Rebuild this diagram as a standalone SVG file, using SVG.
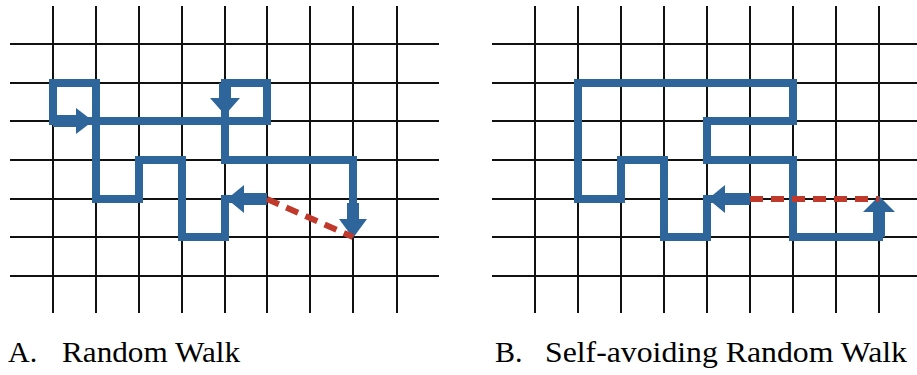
<svg xmlns="http://www.w3.org/2000/svg" width="917" height="375" viewBox="0 0 917 375">
<style>
.grid{stroke:#111;stroke-width:2;fill:none}
.walk{stroke:#2f659b;stroke-width:8;fill:none;stroke-linejoin:miter;stroke-linecap:square}
.shaft{stroke:#2f659b;stroke-width:12;fill:none}
.head{fill:#2f659b}
.jump{stroke:#c0392b;stroke-width:6;stroke-dasharray:13 8;fill:none}
.lbl{font-family:"Liberation Serif","Times New Roman",serif;font-size:30px;fill:#000}
</style>
<defs>
<filter id="soft" x="-5%" y="-5%" width="110%" height="110%"><feGaussianBlur stdDeviation="0.6"/></filter>
</defs>
<g id="grid-a" class="grid">
<path d="M10 44H439M10 83H439M10 121H439M10 160H439M10 199H439M10 237H439M10 276H439"/>
<path d="M53 6V313M96 6V313M139 6V313M182 6V313M225 6V313M267 6V313M310 6V313M353 6V313M397 6V313"/>
</g>
<g id="grid-b" class="grid">
<path d="M492 44H917M492 83H917M492 121H917M492 160H917M492 199H917M492 237H917M492 276H917"/>
<path d="M535 6V313M578 6V313M621 6V313M664 6V313M707 6V313M750 6V313M793 6V313M836 6V313M879 6V313"/>
</g>
<g id="walk-a" filter="url(#soft)">
<path class="walk" d="M53 121V83H96V199H139V160H182V237H225V199H260"/>
<path class="walk" d="M53 121H267V83H225V160H353V215"/>
<line class="shaft" x1="53" y1="121" x2="78" y2="121"/>
<polygon class="head" points="76,108 93,121 76,134"/>
<line class="shaft" x1="225" y1="83" x2="225" y2="99"/>
<polygon class="head" points="210,98 225,115 240,98"/>
<line class="shaft" x1="243" y1="199" x2="267" y2="199"/>
<polygon class="head" points="244,185 227,199 244,213"/>
<line class="shaft" x1="353" y1="203" x2="353" y2="222"/>
<polygon class="head" points="339,219 353,238 367,219"/>
</g>
<g id="walk-b" filter="url(#soft)">
<path class="walk" d="M578 83V199H621V160H664V237H707V199H730"/>
<path class="walk" d="M578 83H793V121H707V160H793V237H879V215"/>
<line class="shaft" x1="724" y1="199" x2="750" y2="199"/>
<polygon class="head" points="725,185 708,199 725,213"/>
<line class="shaft" x1="879" y1="210" x2="879" y2="237"/>
<polygon class="head" points="863,212 879,196 895,212"/>
</g>
<g id="jumps">
<line class="jump" x1="267" y1="199" x2="353" y2="237"/>
<line class="jump" x1="750" y1="199" x2="879" y2="199"/>
</g>
<g id="labels" class="lbl">
<text x="8" y="362">A.<tspan x="62" textLength="178" lengthAdjust="spacingAndGlyphs">Random Walk</tspan></text>
<text x="495" y="362">B.<tspan x="545" textLength="362" lengthAdjust="spacingAndGlyphs">Self-avoiding Random Walk</tspan></text>
</g>
</svg>
